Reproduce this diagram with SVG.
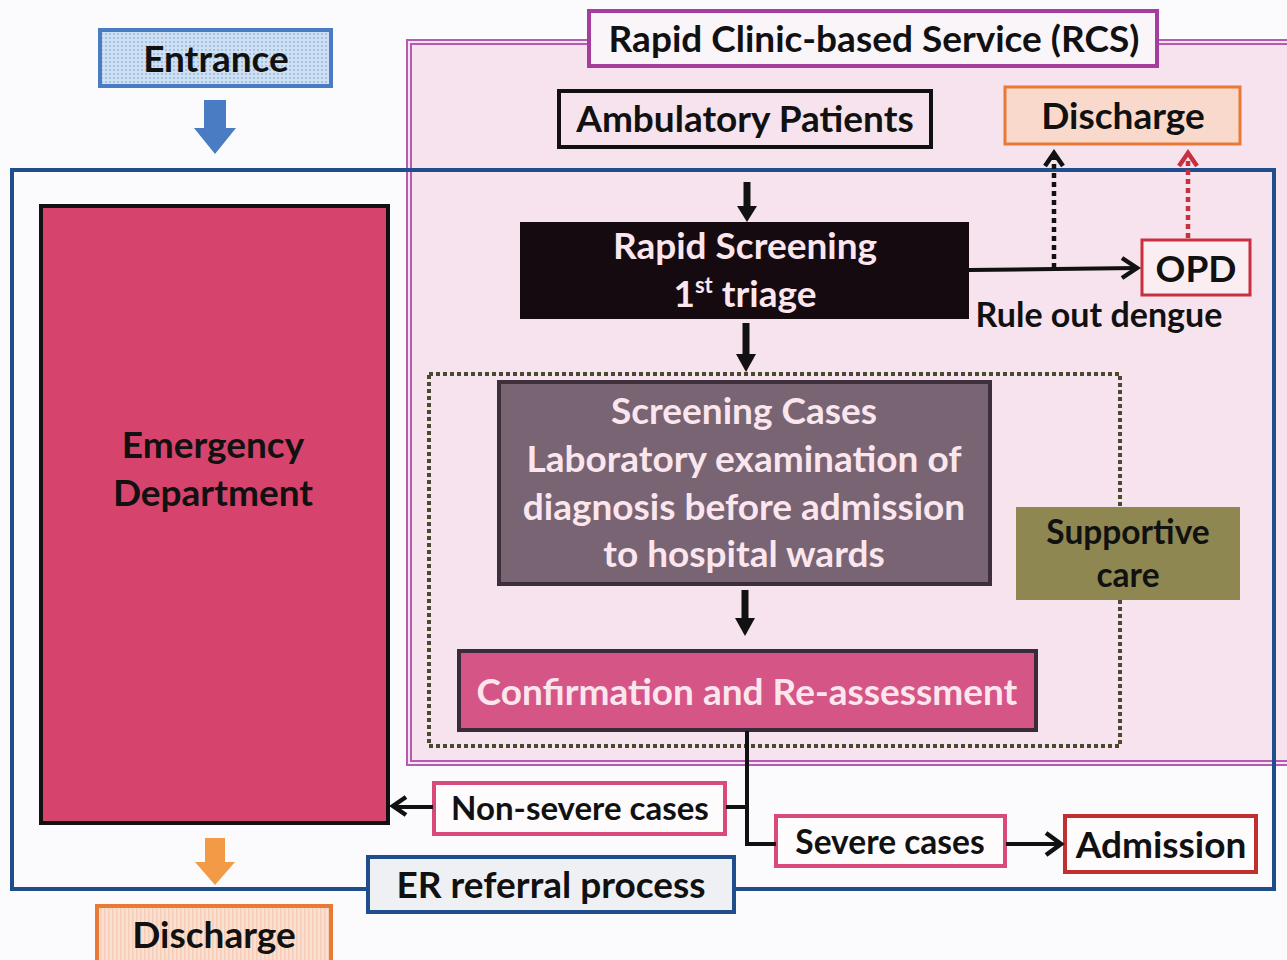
<svg xmlns="http://www.w3.org/2000/svg" width="1287" height="960" viewBox="0 0 1287 960">
<defs>
<style>
text{font-family:Lato,"Open Sans","Liberation Sans",sans-serif;font-weight:bold;text-anchor:middle}
.t{font-size:37px;fill:#111}
.s{font-size:33.5px}
.w{font-size:37px;fill:#fbe6ee}
.ln{fill:none;stroke:#111;stroke-width:4}
.chev{fill:none;stroke:#111;stroke-width:4.5;stroke-linejoin:miter}
</style>
<pattern id="dots" width="4" height="4" patternUnits="userSpaceOnUse"><rect width="4" height="4" fill="#cfe0f2"/><circle cx="2" cy="2" r="0.9" fill="#8fb4de"/></pattern>
<pattern id="stripes" width="4" height="4" patternUnits="userSpaceOnUse"><rect width="4" height="4" fill="#fbe0d2"/><rect width="1.5" height="4" fill="#f6cdb8"/></pattern>
</defs>
<rect width="1287" height="960" fill="#fbfbfd"/>

<g id="rcs-region">
<rect x="407" y="40" width="900" height="725" fill="#f7e3ed" stroke="#b45cb4" stroke-width="2"/>
<rect x="411" y="44" width="900" height="717" fill="none" stroke="#b45cb4" stroke-width="2"/>
</g>

<g id="er-frame">
<rect x="12" y="170" width="1262" height="719" fill="none" stroke="#1f4e8c" stroke-width="4"/>
</g>

<g id="rcs-title">
<rect x="589" y="11" width="568" height="55" fill="#faf5f9" stroke="#a43d9e" stroke-width="4"/>
<text class="t" x="874" y="52">Rapid Clinic-based Service (RCS)</text>
</g>

<g id="entrance">
<rect x="100" y="30" width="231" height="56" fill="url(#dots)" stroke="#4a7cc4" stroke-width="4"/>
<text class="t" x="216" y="72">Entrance</text>
</g>
<path id="entrance-arrow" d="M204,100 H226 V128 H236 L215,154 L194,128 H204 Z" fill="#4a7cc4"/>

<g id="emergency-department">
<rect x="41" y="206" width="347" height="617" fill="#d6446e" stroke="#111" stroke-width="4"/>
<text class="t" x="213" y="458">Emergency</text>
<text class="t" x="213" y="506">Department</text>
</g>

<path id="discharge-arrow" d="M205,838 H225 V862 H235 L215,885 L195,862 H205 Z" fill="#f39a46"/>

<g id="discharge-bottom">
<rect x="97" y="906" width="234" height="60" fill="url(#stripes)" stroke="#e87a35" stroke-width="4"/>
<text class="t" x="214" y="948">Discharge</text>
</g>

<g id="ambulatory-patients">
<rect x="559" y="91" width="372" height="56" fill="#f7e3ed" stroke="#111" stroke-width="4"/>
<text class="t" x="745" y="132">Ambulatory Patients</text>
</g>

<g id="discharge-top">
<rect x="1005" y="87" width="235" height="57" fill="#f9d9cc" stroke="#e87a35" stroke-width="3"/>
<text class="t" x="1123" y="129">Discharge</text>
</g>

<g id="rapid-screening">
<rect x="520" y="222" width="449" height="97" fill="#140a10"/>
<text class="w" x="745" y="259">Rapid Screening</text>
<text class="w" x="745" y="307">1<tspan font-size="22" dy="-14">st</tspan><tspan dy="14"> triage</tspan></text>
</g>

<g id="opd">
<rect x="1142" y="240" width="108" height="55" fill="#fbeef3" stroke="#c8303f" stroke-width="3"/>
<text class="t" x="1196" y="282">OPD</text>
</g>

<text id="rule-out-dengue" class="t" x="1099" y="327" style="font-size:34px">Rule out dengue</text>

<g id="supportive-group">
<rect x="429" y="374" width="691" height="372" fill="none" stroke="#4a4a30" stroke-width="4" stroke-dasharray="4,3"/>
</g>

<g id="supportive-care">
<rect x="1016" y="507" width="224" height="93" fill="#8e8752"/>
<text class="t s" x="1128" y="544">Supportive</text>
<text class="t s" x="1128" y="587">care</text>
</g>

<g id="screening-cases">
<rect x="499" y="382" width="491" height="202" fill="#786473" stroke="#3e2f3c" stroke-width="4"/>
<text class="w" x="744" y="424">Screening Cases</text>
<text class="w" x="744" y="472">Laboratory examination of</text>
<text class="w" x="744" y="520">diagnosis before admission</text>
<text class="w" x="744" y="567">to hospital wards</text>
</g>

<g id="confirmation">
<rect x="459" y="651" width="577" height="79" fill="#d65587" stroke="#3b2a3a" stroke-width="4"/>
<text class="w" x="747" y="705">Confirmation and Re-assessment</text>
</g>

<g id="non-severe">
<rect x="434" y="783" width="291" height="51" fill="#fdfbfc" stroke="#d94a7a" stroke-width="4"/>
<text class="t" x="580" y="820" style="font-size:33px">Non-severe cases</text>
</g>

<g id="severe">
<rect x="776" y="816" width="229" height="50" fill="#fdfbfc" stroke="#d94a7a" stroke-width="4"/>
<text class="t s" x="890" y="854">Severe cases</text>
</g>

<g id="admission">
<rect x="1065" y="816" width="191" height="56" fill="#fdfbfc" stroke="#c0302f" stroke-width="4"/>
<text class="t" x="1161" y="858">Admission</text>
</g>

<g id="er-referral">
<rect x="368" y="857" width="366" height="55" fill="#eff0f4" stroke="#1f4e8c" stroke-width="4"/>
<text class="t" x="551" y="898">ER referral process</text>
</g>

<g id="connectors">
<path d="M747,182 V208" stroke="#111" stroke-width="7" fill="none"/>
<path d="M737,206 H757 L747,222 Z" fill="#111"/>
<path d="M746,323 V356" stroke="#111" stroke-width="7" fill="none"/>
<path d="M736,354 H756 L746,372 Z" fill="#111"/>
<path d="M745,590 V620" stroke="#111" stroke-width="7" fill="none"/>
<path d="M735,618 H755 L745,636 Z" fill="#111"/>
<path class="ln" d="M969,270 L1136,268"/>
<path class="chev" d="M1122,258 L1137,268 L1122,278"/>
<path d="M1054,268 V156" fill="none" stroke="#111" stroke-width="4.5" stroke-dasharray="5,4"/>
<path class="chev" d="M1045,166 L1054,153 L1063,166"/>
<path d="M1188,238 V156" fill="none" stroke="#c8303f" stroke-width="4.5" stroke-dasharray="5,4"/>
<path class="chev" style="stroke:#c8303f" d="M1179,166 L1188,153 L1197,166"/>
<path class="ln" d="M747,731 V844 H776" stroke-width="3"/>
<path class="ln" d="M726,807 H747"/>
<path class="ln" d="M433,807 H394"/>
<path class="chev" d="M406,797 L393,806 L406,815"/>
<path class="ln" d="M1006,844 H1060" stroke-width="5"/>
<path class="chev" d="M1046,833 L1061,844 L1046,855"/>
</g>
</svg>
